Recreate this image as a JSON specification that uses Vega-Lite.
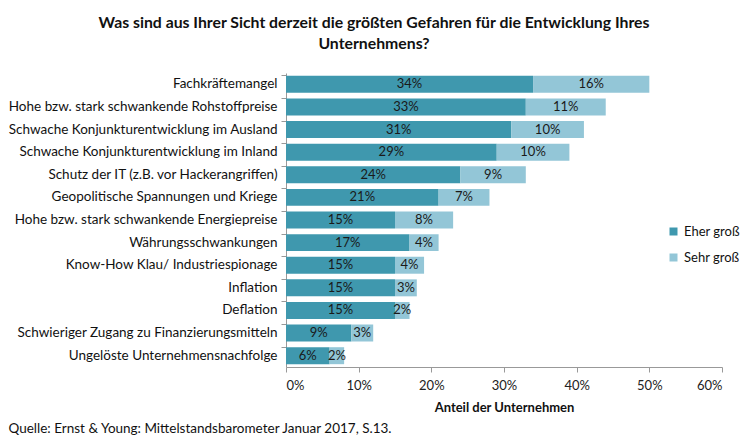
{
  "$schema": "https://vega.github.io/schema/vega-lite/v6.json",
  "width": 436,
  "height": 294,
  "autosize": {"type": "none"},
  "padding": {"left": 286, "top": 73, "right": 28, "bottom": 69},
  "background": "white",
  "title": {
    "text": ["Was sind aus Ihrer Sicht derzeit die größten Gefahren für die Entwicklung Ihres", "Unternehmens?"],
    "anchor": "middle",
    "frame": "group",
    "dx": -130,
    "offset": 20,
    "fontSize": 15.8,
    "lineHeight": 21,
    "font": "Lato",
    "fontWeight": "bold",
    "color": "#111"
  },
  "data": {
    "values": [
      {"category": "Fachkräftemangel", "series": "Eher groß", "order": 1, "value": 0.34},
      {"category": "Fachkräftemangel", "series": "Sehr groß", "order": 2, "value": 0.16},
      {"category": "Hohe bzw. stark schwankende Rohstoffpreise", "series": "Eher groß", "order": 1, "value": 0.33},
      {"category": "Hohe bzw. stark schwankende Rohstoffpreise", "series": "Sehr groß", "order": 2, "value": 0.11},
      {"category": "Schwache Konjunkturentwicklung im Ausland", "series": "Eher groß", "order": 1, "value": 0.31},
      {"category": "Schwache Konjunkturentwicklung im Ausland", "series": "Sehr groß", "order": 2, "value": 0.10},
      {"category": "Schwache Konjunkturentwicklung im Inland", "series": "Eher groß", "order": 1, "value": 0.29},
      {"category": "Schwache Konjunkturentwicklung im Inland", "series": "Sehr groß", "order": 2, "value": 0.10},
      {"category": "Schutz der IT (z.B. vor Hackerangriffen)", "series": "Eher groß", "order": 1, "value": 0.24},
      {"category": "Schutz der IT (z.B. vor Hackerangriffen)", "series": "Sehr groß", "order": 2, "value": 0.09},
      {"category": "Geopolitische Spannungen und Kriege", "series": "Eher groß", "order": 1, "value": 0.21},
      {"category": "Geopolitische Spannungen und Kriege", "series": "Sehr groß", "order": 2, "value": 0.07},
      {"category": "Hohe bzw. stark schwankende Energiepreise", "series": "Eher groß", "order": 1, "value": 0.15},
      {"category": "Hohe bzw. stark schwankende Energiepreise", "series": "Sehr groß", "order": 2, "value": 0.08},
      {"category": "Währungsschwankungen", "series": "Eher groß", "order": 1, "value": 0.17},
      {"category": "Währungsschwankungen", "series": "Sehr groß", "order": 2, "value": 0.04},
      {"category": "Know-How Klau/ Industriespionage", "series": "Eher groß", "order": 1, "value": 0.15},
      {"category": "Know-How Klau/ Industriespionage", "series": "Sehr groß", "order": 2, "value": 0.04},
      {"category": "Inflation", "series": "Eher groß", "order": 1, "value": 0.15},
      {"category": "Inflation", "series": "Sehr groß", "order": 2, "value": 0.03},
      {"category": "Deflation", "series": "Eher groß", "order": 1, "value": 0.15},
      {"category": "Deflation", "series": "Sehr groß", "order": 2, "value": 0.02},
      {"category": "Schwieriger Zugang zu Finanzierungsmitteln", "series": "Eher groß", "order": 1, "value": 0.09},
      {"category": "Schwieriger Zugang zu Finanzierungsmitteln", "series": "Sehr groß", "order": 2, "value": 0.03},
      {"category": "Ungelöste Unternehmensnachfolge", "series": "Eher groß", "order": 1, "value": 0.06},
      {"category": "Ungelöste Unternehmensnachfolge", "series": "Sehr groß", "order": 2, "value": 0.02}
    ]
  },
  "transform": [
    {"stack": "value", "groupby": ["category"], "sort": [{"field": "order", "order": "ascending"}], "as": ["x0", "x1"]},
    {"calculate": "(datum.x0 + datum.x1) / 2", "as": "mid"}
  ],
  "encoding": {
    "y": {
      "field": "category",
      "type": "nominal",
      "sort": ["Fachkräftemangel", "Hohe bzw. stark schwankende Rohstoffpreise", "Schwache Konjunkturentwicklung im Ausland", "Schwache Konjunkturentwicklung im Inland", "Schutz der IT (z.B. vor Hackerangriffen)", "Geopolitische Spannungen und Kriege", "Hohe bzw. stark schwankende Energiepreise", "Währungsschwankungen", "Know-How Klau/ Industriespionage", "Inflation", "Deflation", "Schwieriger Zugang zu Finanzierungsmitteln", "Ungelöste Unternehmensnachfolge"],
      "scale": {"paddingInner": 0.25, "paddingOuter": 0.125},
      "axis": {
        "title": null,
        "bandPosition": 0,
        "domainColor": "#999",
        "tickColor": "#999",
        "tickSize": 5,
        "labelFontSize": 13.5,
        "labelColor": "#111",
        "labelPadding": 4,
        "labelLimit": 300
      }
    }
  },
  "layer": [
    {
      "mark": {"type": "bar"},
      "encoding": {
        "x": {
          "field": "x0",
          "type": "quantitative",
          "scale": {"domain": [0, 0.6], "nice": false},
          "axis": {
            "orient": "bottom",
            "values": [0, 0.1, 0.2, 0.3, 0.4, 0.5, 0.6],
            "format": ".0%",
            "grid": false,
            "domainColor": "#999",
            "tickColor": "#999",
            "tickSize": 5,
            "labelFontSize": 13,
            "labelColor": "#222",
            "labelPadding": 7,
            "title": "Anteil der Unternehmen",
            "titleFontSize": 13,
            "titleFontWeight": "bold",
            "titleColor": "#111",
            "titlePadding": 9
          }
        },
        "x2": {"field": "x1"},
        "color": {
          "field": "series",
          "type": "nominal",
          "scale": {"domain": ["Eher groß", "Sehr groß"], "range": ["#3F98AE", "#93C6D7"]},
          "legend": {
            "title": null,
            "orient": "none",
            "legendX": 381,
            "legendY": 152,
            "symbolType": "square",
            "symbolSize": 64,
            "symbolStrokeWidth": 0,
            "labelFontSize": 13,
            "labelColor": "#111",
            "rowPadding": 12
          }
        }
      }
    },
    {
      "mark": {"type": "text", "fontSize": 13, "color": "#1a1a1a"},
      "encoding": {
        "x": {
          "field": "mid",
          "type": "quantitative",
          "axis": {
            "orient": "bottom",
            "labels": false,
            "ticks": false,
            "domain": false,
            "grid": false,
            "title": "Quelle: Ernst & Young: Mittelstandsbarometer Januar 2017, S.13.",
            "titleFontSize": 13.5,
            "titleFontWeight": "normal",
            "titleColor": "#111",
            "titleAnchor": "start",
            "titleAlign": "left",
            "titleBaseline": "middle",
            "titleX": -278,
            "titleY": 61
          }
        },
        "text": {"field": "value", "type": "quantitative", "format": ".0%"}
      }
    }
  ],
  "resolve": {"axis": {"x": "independent"}},
  "config": {
    "font": "Lato",
    "view": {"stroke": null}
  }
}
